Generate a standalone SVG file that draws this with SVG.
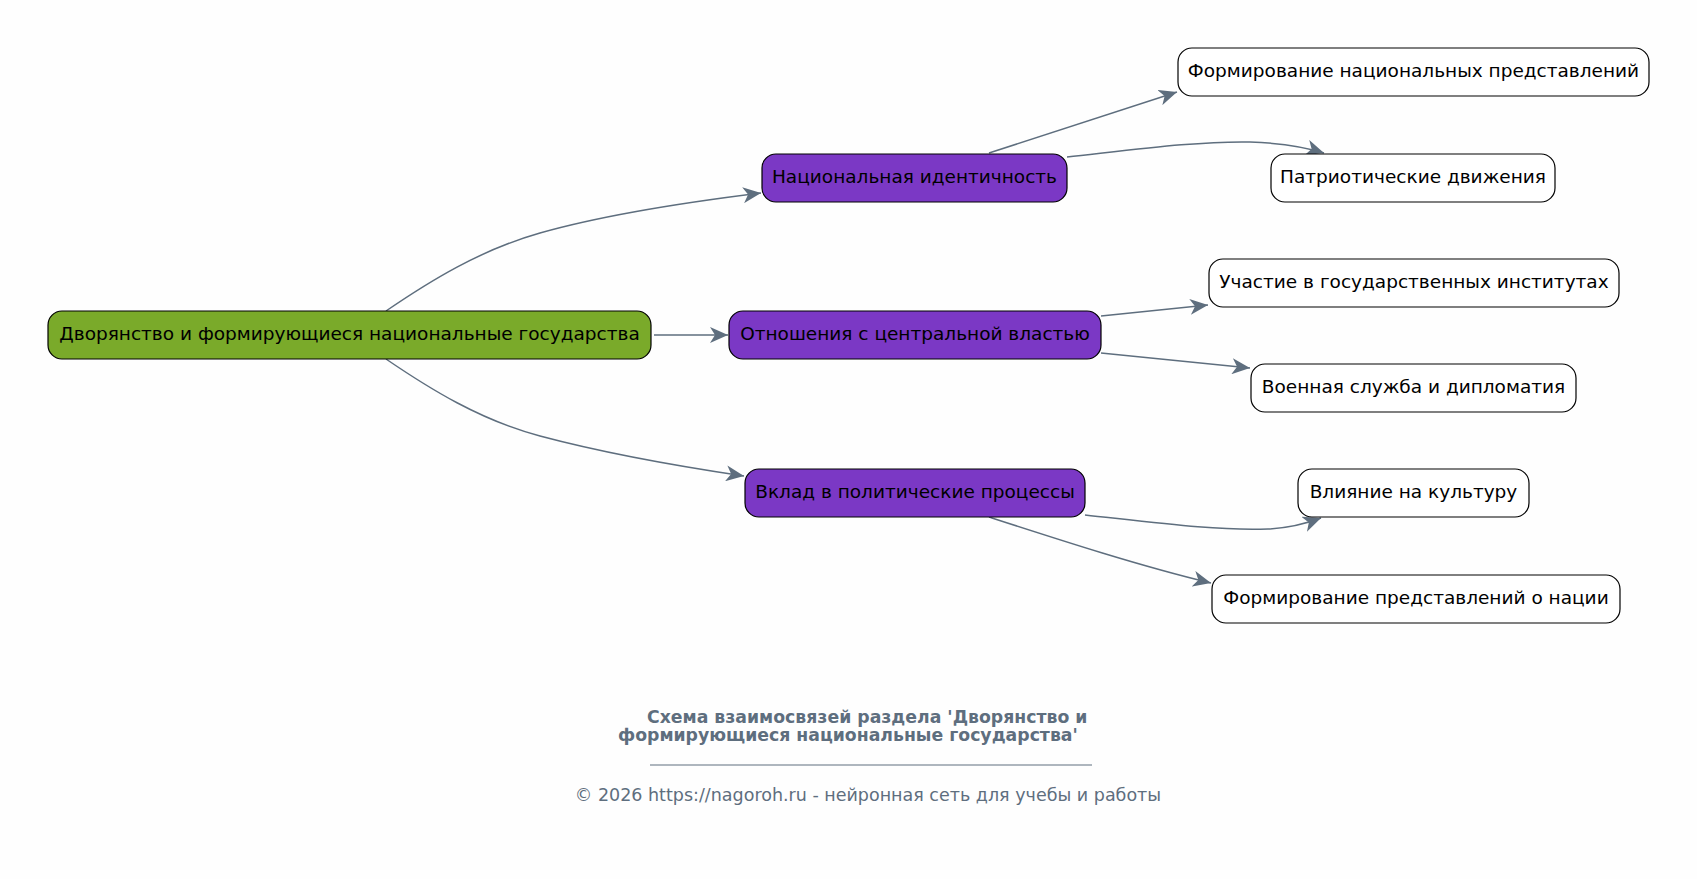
<svg xmlns="http://www.w3.org/2000/svg" width="1697" height="879" viewBox="0 0 1697 879">
<defs>
<marker id="vee" markerUnits="userSpaceOnUse" markerWidth="19" markerHeight="16" refX="18" refY="8" orient="auto" viewBox="0 0 19 16">
<path d="M0,0 L18,8 L0,16 L5,8 z" fill="#5e6e7e"/>
</marker>
<style>
.n rect{stroke:#000;stroke-width:1.2}
.root rect{fill:#7aaa2a}
.l1 rect{fill:#7b38c5}
.l2 rect{fill:#ffffff}
.n text{font-family:"DejaVu Sans",sans-serif;font-size:18.5px;fill:#000;text-anchor:middle}
.e path{fill:none;stroke:#5e6e7e;stroke-width:1.5;marker-end:url(#vee)}
.t{font-family:"DejaVu Sans",sans-serif;fill:#5e6e7e}
</style>
</defs>
<rect width="1697" height="879" fill="#fefefe"/>
<g id="edges" class="e">
<path d="M386,311 C430,281 480,250 540,233 C600,216 680,203 761,193"/>
<path d="M654,335 L728,335"/>
<path d="M386,359 C430,389 480,420 540,436 C600,452 670,465 744,476"/>
<path d="M989,153 L1177,92"/>
<path d="M1067,157 C1140,149 1200,141 1250,142 C1280,143 1305,147 1324,153"/>
<path d="M1101,316 L1208,305"/>
<path d="M1101,353 L1250,368"/>
<path d="M1085,515 C1158,523 1218,531 1268,529 C1290,528 1305,524 1321,518"/>
<path d="M989,517 C1060,540 1140,566 1211,583"/>
</g>
<g id="root" class="n root"><rect x="48" y="311" width="603" height="48" rx="14"/><text x="349.5" y="340">Дворянство и формирующиеся национальные государства</text></g>
<g id="n1" class="n l1"><rect x="762" y="154" width="305" height="48" rx="14"/><text x="914.5" y="183">Национальная идентичность</text></g>
<g id="n2" class="n l1"><rect x="729" y="311" width="372" height="48" rx="14"/><text x="915" y="340">Отношения с центральной властью</text></g>
<g id="n3" class="n l1"><rect x="745" y="469" width="340" height="48" rx="14"/><text x="915" y="498">Вклад в политические процессы</text></g>
<g id="n11" class="n l2"><rect x="1178" y="48" width="471" height="48" rx="14"/><text x="1413.5" y="77">Формирование национальных представлений</text></g>
<g id="n12" class="n l2"><rect x="1271" y="154" width="284" height="48" rx="14"/><text x="1413" y="183">Патриотические движения</text></g>
<g id="n21" class="n l2"><rect x="1209" y="259" width="410" height="48" rx="14"/><text x="1414" y="288">Участие в государственных институтах</text></g>
<g id="n22" class="n l2"><rect x="1251" y="364" width="325" height="48" rx="14"/><text x="1413.5" y="393">Военная служба и дипломатия</text></g>
<g id="n31" class="n l2"><rect x="1298" y="469" width="231" height="48" rx="14"/><text x="1413.5" y="498">Влияние на культуру</text></g>
<g id="n32" class="n l2"><rect x="1212" y="575" width="408" height="48" rx="14"/><text x="1416" y="604">Формирование представлений о нации</text></g>
<g id="title">
<text class="t" x="647" y="723" font-size="17.3" font-weight="bold">Схема взаимосвязей раздела 'Дворянство и</text>
<text class="t" x="618" y="741" font-size="17.3" font-weight="bold">формирующиеся национальные государства'</text>
<line x1="650" y1="765" x2="1092" y2="765" stroke="#5e6e7e" stroke-width="1"/>
<text class="t" x="868" y="801" font-size="17.5" text-anchor="middle">© 2026 https://nagoroh.ru - нейронная сеть для учебы и работы</text>
</g>
</svg>
